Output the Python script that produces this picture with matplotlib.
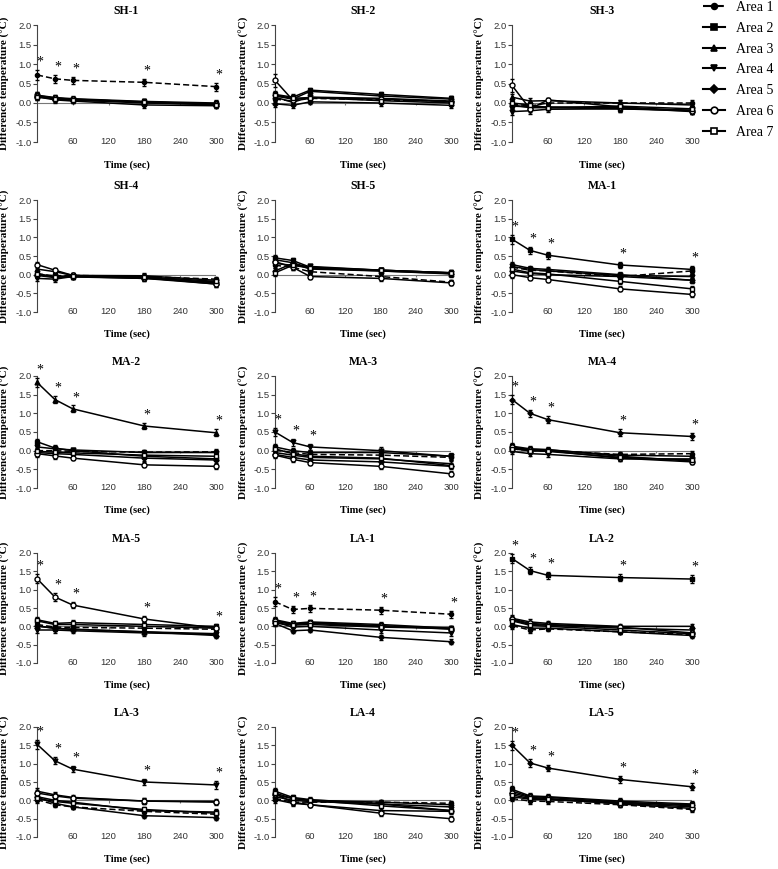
import numpy as np
import matplotlib.pyplot as plt
from matplotlib.lines import Line2D

# Time points (sec)
TIME = [0, 30, 60, 180, 300]
XTICKS = [60, 120, 180, 240, 300]
YTICKS = [-1.0, -0.5, 0.0, 0.5, 1.0, 1.5, 2.0]
AREAS = ['Area 1', 'Area 2', 'Area 3', 'Area 4', 'Area 5', 'Area 6', 'Area 7']
PANEL_NAMES = ['SH-1', 'SH-2', 'SH-3', 'SH-4', 'SH-5',
               'MA-1', 'MA-2', 'MA-3', 'MA-4', 'MA-5',
               'LA-1', 'LA-2', 'LA-3', 'LA-4', 'LA-5']

# mean difference temperature, one row per area (Area 1 .. Area 7)
SH1 = [[0.72, 0.62, 0.58, 0.53, 0.42],
       [0.20, 0.14, 0.11, 0.04, 0.00],
       [0.18, 0.12, 0.10, 0.02, -0.02],
       [0.17, 0.10, 0.08, 0.00, -0.04],
       [0.16, 0.08, 0.05, -0.05, -0.07],
       [0.19, 0.13, 0.09, 0.03, -0.03],
       [0.15, 0.11, 0.07, 0.02, -0.05]]
SH2 = [[0.10, 0.05, 0.12, 0.08, 0.05],
       [0.22, 0.15, 0.33, 0.22, 0.12],
       [0.18, 0.10, 0.30, 0.18, 0.10],
       [0.15, 0.02, 0.15, 0.12, 0.05],
       [-0.02, -0.06, 0.03, 0.00, -0.06],
       [0.58, 0.08, 0.14, 0.10, 0.03],
       [0.20, 0.12, 0.14, 0.06, 0.00]]
SH3 = [[-0.02, -0.08, 0.00, 0.00, 0.00],
       [-0.05, -0.12, -0.12, -0.15, -0.20],
       [0.15, 0.05, 0.06, 0.00, -0.05],
       [-0.22, -0.20, -0.16, -0.15, -0.18],
       [-0.08, -0.10, -0.10, -0.12, -0.22],
       [0.45, -0.15, 0.08, -0.10, -0.20],
       [0.00, -0.05, -0.12, -0.08, -0.15]]
SH4 = [[0.02, -0.03, -0.02, -0.05, -0.12],
       [-0.02, -0.08, -0.05, -0.08, -0.22],
       [0.15, 0.08, -0.02, -0.03, -0.15],
       [-0.10, -0.12, -0.05, -0.10, -0.20],
       [0.00, -0.05, -0.06, -0.10, -0.25],
       [0.27, 0.12, -0.02, -0.08, -0.25],
       [0.03, -0.06, -0.03, -0.06, -0.18]]
SH5 = [[0.25, 0.20, 0.08, -0.05, -0.20],
       [0.45, 0.38, 0.20, 0.12, 0.05],
       [0.40, 0.32, 0.18, 0.10, 0.03],
       [0.30, 0.25, 0.22, 0.12, 0.05],
       [0.10, 0.30, 0.15, 0.10, 0.02],
       [0.35, 0.20, -0.05, -0.10, -0.22],
       [0.05, 0.25, 0.18, 0.12, 0.05]]
MA1 = [[0.20, 0.12, 0.10, -0.05, 0.10],
       [0.95, 0.65, 0.52, 0.26, 0.14],
       [0.27, 0.17, 0.14, 0.00, -0.15],
       [0.22, 0.14, 0.10, -0.02, -0.05],
       [0.10, 0.03, 0.00, -0.05, -0.15],
       [0.00, -0.08, -0.13, -0.38, -0.53],
       [0.15, 0.05, 0.02, -0.18, -0.38]]
MA2 = [[0.00, 0.00, -0.02, -0.04, -0.03],
       [0.24, 0.07, 0.00, -0.15, -0.22],
       [1.83, 1.37, 1.12, 0.66, 0.48],
       [0.10, 0.05, 0.02, -0.05, -0.05],
       [-0.05, -0.08, -0.10, -0.20, -0.25],
       [-0.08, -0.14, -0.20, -0.38, -0.42],
       [-0.02, -0.04, -0.06, -0.12, -0.15]]
MA3 = [[0.02, -0.05, -0.10, -0.12, -0.18],
       [0.10, 0.00, -0.05, -0.05, -0.15],
       [-0.05, -0.12, -0.18, -0.22, -0.35],
       [0.50, 0.22, 0.10, 0.00, -0.15],
       [-0.10, -0.18, -0.25, -0.30, -0.42],
       [-0.12, -0.23, -0.32, -0.42, -0.62],
       [0.05, -0.08, -0.15, -0.20, -0.40]]
MA4 = [[0.05, 0.00, 0.00, -0.10, -0.08],
       [0.12, 0.05, 0.03, -0.15, -0.28],
       [0.08, 0.03, 0.02, -0.12, -0.15],
       [-0.02, -0.08, -0.10, -0.22, -0.22],
       [1.37, 1.00, 0.83, 0.48, 0.38],
       [0.10, 0.02, 0.00, -0.20, -0.30],
       [0.05, 0.00, -0.02, -0.18, -0.25]]
MA5 = [[0.05, -0.02, -0.03, -0.05, -0.08],
       [0.15, 0.05, 0.05, 0.00, -0.05],
       [0.00, -0.05, -0.08, -0.15, -0.20],
       [-0.10, -0.10, -0.12, -0.18, -0.22],
       [0.02, -0.06, -0.08, -0.15, -0.25],
       [1.30, 0.80, 0.58, 0.20, -0.05],
       [0.18, 0.08, 0.10, 0.05, 0.00]]
LA1 = [[0.67, 0.46, 0.49, 0.44, 0.33],
       [0.18, 0.08, 0.12, 0.05, -0.05],
       [0.15, 0.05, 0.08, 0.00, -0.05],
       [0.12, -0.02, 0.00, -0.10, -0.18],
       [0.08, -0.12, -0.10, -0.30, -0.42],
       [0.15, 0.06, 0.10, 0.02, -0.08],
       [0.10, 0.03, 0.05, -0.02, -0.06]]
LA2 = [[0.02, -0.10, -0.07, -0.15, -0.22],
       [1.85, 1.52, 1.39, 1.33, 1.29],
       [0.22, 0.12, 0.08, 0.00, 0.00],
       [0.18, 0.05, 0.03, -0.05, -0.10],
       [0.05, -0.05, -0.05, -0.15, -0.25],
       [0.20, 0.08, 0.05, -0.02, -0.18],
       [0.15, 0.03, 0.00, -0.10, -0.20]]
LA3 = [[0.02, -0.12, -0.18, -0.30, -0.38],
       [0.10, 0.00, -0.05, -0.28, -0.32],
       [0.25, 0.15, 0.08, -0.02, -0.03],
       [1.53, 1.08, 0.85, 0.50, 0.42],
       [0.08, -0.08, -0.18, -0.42, -0.47],
       [0.20, 0.12, 0.06, -0.02, -0.05],
       [0.05, -0.03, -0.08, -0.25, -0.35]]
LA4 = [[0.05, -0.05, -0.05, -0.05, -0.08],
       [0.25, 0.08, 0.02, -0.10, -0.28],
       [0.15, 0.05, 0.00, -0.05, -0.12],
       [0.10, 0.00, -0.03, -0.10, -0.18],
       [0.02, -0.08, -0.12, -0.28, -0.30],
       [0.18, -0.05, -0.12, -0.35, -0.50],
       [0.20, 0.05, 0.00, -0.15, -0.28]]
LA5 = [[0.05, -0.02, -0.03, -0.12, -0.25],
       [0.30, 0.12, 0.10, -0.02, -0.10],
       [0.25, 0.10, 0.08, -0.05, -0.15],
       [0.10, 0.03, 0.02, -0.08, -0.18],
       [1.50, 1.02, 0.88, 0.57, 0.37],
       [0.20, 0.08, 0.05, -0.10, -0.22],
       [0.15, 0.05, 0.03, -0.06, -0.12]]
PANEL_VALUES = [SH1, SH2, SH3, SH4, SH5, MA1, MA2, MA3, MA4, MA5,
                LA1, LA2, LA3, LA4, LA5]

# error bars (SEM): typical and for the raised series
ERR_LOW = [0.08, 0.07, 0.06, 0.07, 0.07]
ERR_HIGH = [0.12, 0.10, 0.09, 0.09, 0.10]

# series marked with * (area index) and which time points
STAR_AREA = {'SH-1': 0, 'MA-1': 1, 'MA-2': 2, 'MA-3': 3, 'MA-4': 4,
             'MA-5': 5, 'LA-1': 0, 'LA-2': 1, 'LA-3': 3, 'LA-5': 4}
STAR_POINTS = {'MA-3': [0, 1, 2]}
# single raised first points with larger error
BIG_FIRST = {'SH-2': 5, 'SH-3': 5}

SERIF = ['Liberation Serif', 'DejaVu Serif']
SANS = ['Liberation Sans', 'DejaVu Sans']

styles = [
    dict(marker='o', ms=3, mfc='black', ls=(0, (4, 2))),
    dict(marker='s', ms=3, mfc='black', ls='-'),
    dict(marker='^', ms=3.5, mfc='black', ls='-'),
    dict(marker='v', ms=3.5, mfc='black', ls='-'),
    dict(marker='D', ms=2.6, mfc='black', ls='-'),
    dict(marker='o', ms=3.6, mfc='white', ls='-'),
    dict(marker='s', ms=3.4, mfc='white', ls='-'),
]

W, H = 778, 869
fig = plt.figure(figsize=(W / 100, H / 100), dpi=100)
col_px = [(37, 216), (275, 451), (512, 692)]
row_px = [(25, 142), (200, 312), (376, 488), (553, 663), (727, 837)]

for k, (name, vals) in enumerate(zip(PANEL_NAMES, PANEL_VALUES)):
    r, c = divmod(k, 3)
    x0, x1 = col_px[c]
    y0, y1 = row_px[r]
    ax = fig.add_axes([x0 / W, 1 - y1 / H, (x1 - x0) / W, (y1 - y0) / H])

    # zero reference line with small ticks
    ax.plot([0, 300], [0, 0], color='#777777', lw=0.8, zorder=1)
    ax.vlines(XTICKS, -0.06, 0, color='#777777', lw=0.8, zorder=1)

    star = STAR_AREA.get(name)
    for a in range(7):
        err = list(ERR_HIGH) if a == star else list(ERR_LOW)
        if BIG_FIRST.get(name) == a:
            err[0] = 0.17
        st = styles[a]
        ax.errorbar(TIME, vals[a], yerr=err, color='black', lw=1.1,
                    ls=st['ls'], marker=st['marker'], ms=st['ms'],
                    mfc=st['mfc'], mec='black', mew=1.0,
                    elinewidth=0.8, capsize=1.6, capthick=0.8,
                    clip_on=False, zorder=3 + (a == star))
    if star is not None:
        pts = STAR_POINTS.get(name, range(len(TIME)))
        for i in pts:
            ax.annotate('*', (TIME[i], vals[star][i] + ERR_HIGH[i]),
                        xytext=(2, 1), textcoords='offset points',
                        ha='center', va='bottom', fontsize=10,
                        family=SERIF, annotation_clip=False)

    ax.set_xlim(0, 300)
    ax.set_ylim(-1.0, 2.0)
    for s in ['top', 'right', 'bottom']:
        ax.spines[s].set_visible(False)
    ax.spines['left'].set_color('#444444')
    ax.spines['left'].set_linewidth(0.8)
    ax.set_yticks(YTICKS)
    ax.set_yticklabels([f'{v:.1f}' for v in YTICKS], family=SANS,
                       fontsize=6.8, color='#333333')
    ax.tick_params(axis='y', length=3, width=0.8, color='#444444', pad=1)
    ax.set_xticks(XTICKS)
    ax.set_xticklabels([str(v) for v in XTICKS], family=SANS,
                       fontsize=6.8, color='#333333')
    ax.tick_params(axis='x', length=0, pad=-3.5)

    ax.set_title(name, fontsize=8.5, fontweight='bold', family=SERIF, pad=8)
    ax.set_xlabel('Time (sec)', fontsize=7.5, fontweight='bold', family=SERIF)
    ax.xaxis.set_label_coords(0.5, -0.2)
    ax.xaxis.label.set_va('center')
    ax.set_ylabel('Difference temperature (°C)', fontsize=8,
                  fontweight='bold', family=SERIF)
    ax.yaxis.set_label_coords(-0.15, 0.5)
    ax.patch.set_alpha(0)

handles = [Line2D([], [], color='black', lw=1.5, ls=st['ls'],
                  marker=st['marker'], ms=st['ms'] + 1.2, mfc=st['mfc'],
                  mec='black', mew=1.2) for st in styles]
fig.legend(handles, AREAS, loc='upper left', bbox_to_anchor=(703 / W, 1 - 1 / H),
           frameon=False, prop={'family': SERIF, 'size': 10},
           handlelength=1.6, handletextpad=0.8, labelspacing=0.56,
           borderaxespad=0, borderpad=0)

fig.savefig('out.png', dpi=100)
